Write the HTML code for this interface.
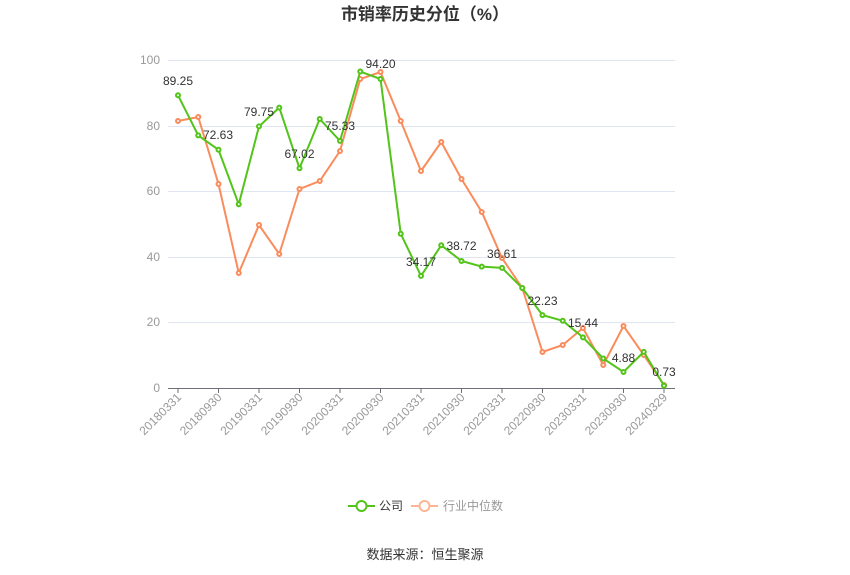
<!DOCTYPE html>
<html><head><meta charset="utf-8"><style>
body{margin:0;background:#fff;}
svg{display:block;font-family:"Liberation Sans","Noto Sans CJK SC",sans-serif;}
</style></head><body>
<svg width="850" height="575" viewBox="0 0 850 575">
<text x="425" y="20" text-anchor="middle" font-size="17" font-weight="bold" fill="#333">市销率历史分位（%）</text>
<g stroke="#e0e6f1" stroke-width="1">
<line x1="168" y1="60.5" x2="675" y2="60.5"/>
<line x1="168" y1="126.5" x2="675" y2="126.5"/>
<line x1="168" y1="191.5" x2="675" y2="191.5"/>
<line x1="168" y1="257.5" x2="675" y2="257.5"/>
<line x1="168" y1="322.5" x2="675" y2="322.5"/>
</g>
<line x1="168" y1="388.5" x2="675" y2="388.5" stroke="#6e7079"/>
<g stroke="#6e7079">
<line x1="178" y1="388" x2="178" y2="393"/><line x1="218.5" y1="388" x2="218.5" y2="393"/><line x1="259" y1="388" x2="259" y2="393"/><line x1="299.5" y1="388" x2="299.5" y2="393"/><line x1="340" y1="388" x2="340" y2="393"/><line x1="380.5" y1="388" x2="380.5" y2="393"/><line x1="421" y1="388" x2="421" y2="393"/><line x1="461.5" y1="388" x2="461.5" y2="393"/><line x1="502" y1="388" x2="502" y2="393"/><line x1="542.5" y1="388" x2="542.5" y2="393"/><line x1="583" y1="388" x2="583" y2="393"/><line x1="623.5" y1="388" x2="623.5" y2="393"/><line x1="664" y1="388" x2="664" y2="393"/>
</g>
<g font-size="12" fill="#999" text-anchor="end">
<text x="160" y="64">100</text><text x="160" y="130">80</text><text x="160" y="195">60</text><text x="160" y="261">40</text><text x="160" y="326">20</text><text x="160" y="392">0</text>
</g>
<g font-size="12" fill="#999" text-anchor="end">
<text transform="translate(182,398) rotate(-45)">20180331</text>
<text transform="translate(222.5,398) rotate(-45)">20180930</text>
<text transform="translate(263,398) rotate(-45)">20190331</text>
<text transform="translate(303.5,398) rotate(-45)">20190930</text>
<text transform="translate(344,398) rotate(-45)">20200331</text>
<text transform="translate(384.5,398) rotate(-45)">20200930</text>
<text transform="translate(425,398) rotate(-45)">20210331</text>
<text transform="translate(465.5,398) rotate(-45)">20210930</text>
<text transform="translate(506,398) rotate(-45)">20220331</text>
<text transform="translate(546.5,398) rotate(-45)">20220930</text>
<text transform="translate(587,398) rotate(-45)">20230331</text>
<text transform="translate(627.5,398) rotate(-45)">20230930</text>
<text transform="translate(668,398) rotate(-45)">20240329</text>
</g>
<g id="o" fill="#fff" stroke="#fa8c5c" stroke-width="2">
<polyline fill="none" points="178,121 198.25,117 218.5,184 238.75,273 259,225 279.25,254 299.5,189 319.75,181 340,151 360.25,79 380.5,72 400.75,121 421,171 441.25,142 461.5,179 481.75,212 502,258 522.25,288 542.5,352 562.75,345 583,328 603.25,365 623.5,326 643.75,355 664,385"/>
<circle cx="178" cy="121" r="2"/><circle cx="198.25" cy="117" r="2"/><circle cx="218.5" cy="184" r="2"/><circle cx="238.75" cy="273" r="2"/><circle cx="259" cy="225" r="2"/><circle cx="279.25" cy="254" r="2"/><circle cx="299.5" cy="189" r="2"/><circle cx="319.75" cy="181" r="2"/><circle cx="340" cy="151" r="2"/><circle cx="360.25" cy="79" r="2"/><circle cx="380.5" cy="72" r="2"/><circle cx="400.75" cy="121" r="2"/><circle cx="421" cy="171" r="2"/><circle cx="441.25" cy="142" r="2"/><circle cx="461.5" cy="179" r="2"/><circle cx="481.75" cy="212" r="2"/><circle cx="502" cy="258" r="2"/><circle cx="522.25" cy="288" r="2"/><circle cx="542.5" cy="352" r="2"/><circle cx="562.75" cy="345" r="2"/><circle cx="583" cy="328" r="2"/><circle cx="603.25" cy="365" r="2"/><circle cx="623.5" cy="326" r="2"/><circle cx="643.75" cy="355" r="2"/><circle cx="664" cy="385" r="2"/>
</g>
<g fill="#fff" stroke="#52c41a" stroke-width="2">
<polyline fill="none" points="178,95.3 198.25,135.4 218.5,149.8 238.75,204.3 259,126.4 279.25,107.6 299.5,168.2 319.75,119 340,140.9 360.25,71.5 380.5,79 400.75,233.8 421,275.9 441.25,245.3 461.5,261 481.75,266.6 502,267.9 522.25,288 542.5,315.1 562.75,320.8 583,337.4 603.25,358.5 623.5,372 643.75,351.9 664,385.6"/>
<circle cx="178" cy="95.3" r="2"/><circle cx="198.25" cy="135.4" r="2"/><circle cx="218.5" cy="149.8" r="2"/><circle cx="238.75" cy="204.3" r="2"/><circle cx="259" cy="126.4" r="2"/><circle cx="279.25" cy="107.6" r="2"/><circle cx="299.5" cy="168.2" r="2"/><circle cx="319.75" cy="119" r="2"/><circle cx="340" cy="140.9" r="2"/><circle cx="360.25" cy="71.5" r="2"/><circle cx="380.5" cy="79" r="2"/><circle cx="400.75" cy="233.8" r="2"/><circle cx="421" cy="275.9" r="2"/><circle cx="441.25" cy="245.3" r="2"/><circle cx="461.5" cy="261" r="2"/><circle cx="481.75" cy="266.6" r="2"/><circle cx="502" cy="267.9" r="2"/><circle cx="522.25" cy="288" r="2"/><circle cx="542.5" cy="315.1" r="2"/><circle cx="562.75" cy="320.8" r="2"/><circle cx="583" cy="337.4" r="2"/><circle cx="603.25" cy="358.5" r="2"/><circle cx="623.5" cy="372" r="2"/><circle cx="643.75" cy="351.9" r="2"/><circle cx="664" cy="385.6" r="2"/>
</g>
<g font-size="12" fill="#333" text-anchor="middle">
<text x="178" y="85">89.25</text>
<text x="218" y="139">72.63</text>
<text x="259" y="116">79.75</text>
<text x="299.5" y="158">67.02</text>
<text x="340" y="130">75.33</text>
<text x="380.5" y="68">94.20</text>
<text x="421" y="266">34.17</text>
<text x="461.5" y="250">38.72</text>
<text x="502" y="258">36.61</text>
<text x="542.5" y="305">22.23</text>
<text x="583" y="327">15.44</text>
<text x="623.5" y="362">4.88</text>
<text x="664" y="376">0.73</text>
</g>
<g>
<line x1="348" y1="506" x2="375" y2="506" stroke="#52c41a" stroke-width="2"/>
<circle cx="361.5" cy="506" r="5" fill="#fff" stroke="#52c41a" stroke-width="2"/>
<text x="379" y="510" font-size="12" fill="#333">公司</text>
<line x1="411" y1="506" x2="438" y2="506" stroke="#fdb596" stroke-width="2"/>
<circle cx="424.5" cy="506" r="5" fill="#fff" stroke="#fdb596" stroke-width="2"/>
<text x="443" y="510" font-size="12" fill="#999">行业中位数</text>
</g>
<text x="425" y="559" text-anchor="middle" font-size="13" fill="#333">数据来源：恒生聚源</text>
</svg>
</body></html>
